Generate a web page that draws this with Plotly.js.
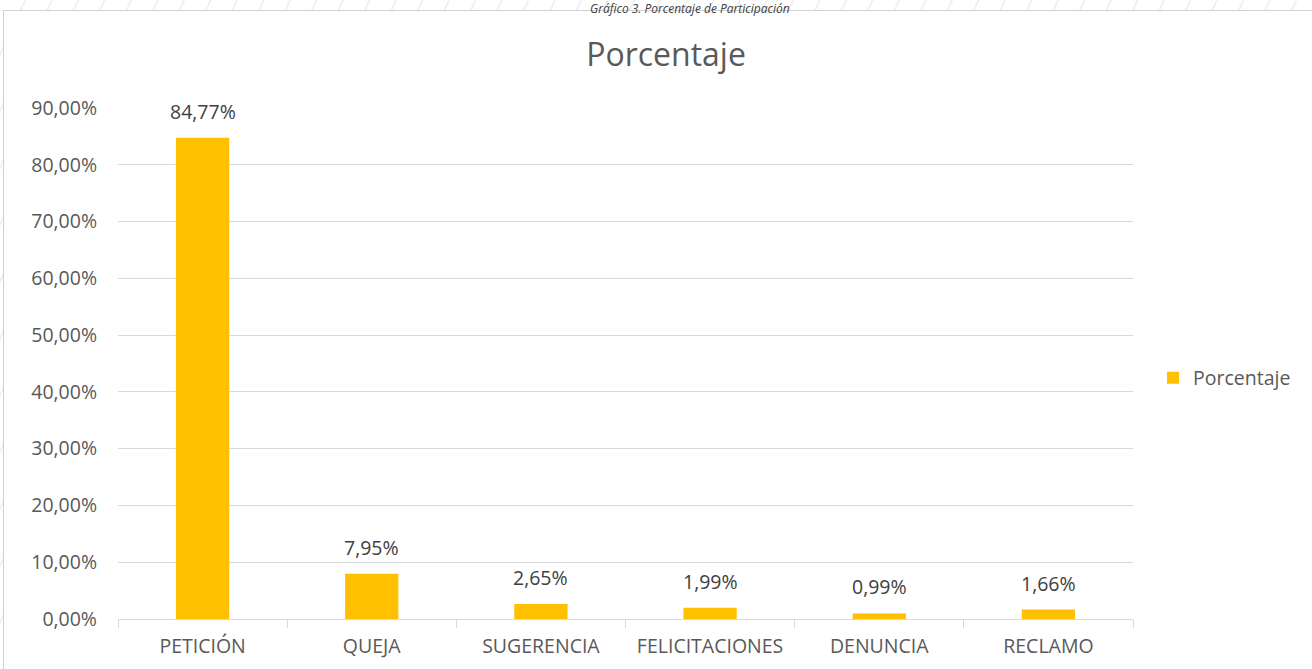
<!DOCTYPE html>
<html>
<head>
<meta charset="utf-8">
<script src="https://cdn.plot.ly/plotly-3.0.1.min.js"></script>
<style>
  html, body { margin:0; padding:0; width:1312px; height:669px; overflow:hidden; background:#fff; }
  #bg { position:absolute; left:0; top:0; width:1312px; height:669px;
        background: repeating-linear-gradient(115deg, #ffffff 0px, #ffffff 22px, #f1f1f1 22px, #f1f1f1 24px); }
  #box { position:absolute; left:3px; top:10px; width:1320px; height:670px; background:#fff; border:1px solid #d0d0d0; }
  #chart { position:absolute; left:0; top:0; width:1312px; height:669px; }
</style>
</head>
<body>
<div id="bg"></div>
<div id="box"></div>
<div id="chart"></div>
<script>
const categories = ["PETICIÓN", "QUEJA", "SUGERENCIA", "FELICITACIONES", "DENUNCIA", "RECLAMO"];
const values = [84.77, 7.95, 2.65, 1.99, 0.99, 1.66];
const labels = ["84,77%", "7,95%", "2,65%", "1,99%", "0,99%", "1,66%"];
const yTicks = [0, 10, 20, 30, 40, 50, 60, 70, 80, 90];
const yTickText = ["0,00%", "10,00%", "20,00%", "30,00%", "40,00%", "50,00%", "60,00%", "70,00%", "80,00%", "90,00%"];
const seriesName = "Porcentaje";
const chartTitle = "Porcentaje";
const caption = "Gráfico 3. Porcentaje de Participación";

const font = "'Open Sans', 'Noto Sans', sans-serif";
const fs = 19.5;

const trace = {
  type: "bar",
  x: categories,
  y: values,
  name: seriesName,
  marker: { color: "#FFC000" },
  showlegend: true,
  hoverinfo: "x+y"
};

const dataLabels = categories.map((c, i) => ({
  x: c, y: values[i], xref: "x", yref: "y",
  text: labels[i], showarrow: false,
  yanchor: "bottom", yshift: 11,
  font: { family: font, size: fs, color: "#404040" }
}));

const layout = {
  width: 1312, height: 669,
  margin: { l: 118, r: 179, t: 108, b: 50 },
  paper_bgcolor: "rgba(0,0,0,0)",
  plot_bgcolor: "#ffffff",
  bargap: 0.685,
  font: { family: font, color: "#595959", size: fs },
  title: {
    text: chartTitle,
    font: { family: font, size: 32, color: "#595959" },
    x: 666/1312, xref: "container", xanchor: "center",
    y: 1 - 55/669, yref: "container", yanchor: "middle"
  },
  xaxis: {
    type: "category",
    showline: true, linecolor: "#d9d9d9", linewidth: 1,
    ticks: "outside", tickson: "boundaries", ticklen: 8, tickcolor: "#d9d9d9",
    ticklabelstandoff: 10,
    tickfont: { family: font, size: fs, color: "#595959" },
    showgrid: false, zeroline: false
  },
  yaxis: {
    range: [0, 90],
    tickvals: yTicks, ticktext: yTickText,
    showgrid: true, gridcolor: "#d9d9d9", gridwidth: 1,
    zeroline: false, showline: false, ticks: "",
    ticklabelstandoff: 20,
    tickfont: { family: font, size: fs, color: "#595959" }
  },
  legend: {
    x: (1153-118)/1015, xanchor: "left",
    y: (619-378)/511, yanchor: "middle",
    font: { family: font, size: fs, color: "#595959" },
    itemwidth: 30, bgcolor: "rgba(0,0,0,0)"
  },
  annotations: dataLabels.concat([{
    text: "<i>" + caption + "</i>",
    xref: "paper", yref: "paper",
    x: (690-118)/1015, y: 1 + 100/511,
    xanchor: "center", yanchor: "middle",
    showarrow: false,
    font: { family: font, size: 12, color: "#404040" }
  }])
};

Plotly.newPlot("chart", [trace], layout, { displayModeBar: false, staticPlot: true });
</script>
</body>
</html>
